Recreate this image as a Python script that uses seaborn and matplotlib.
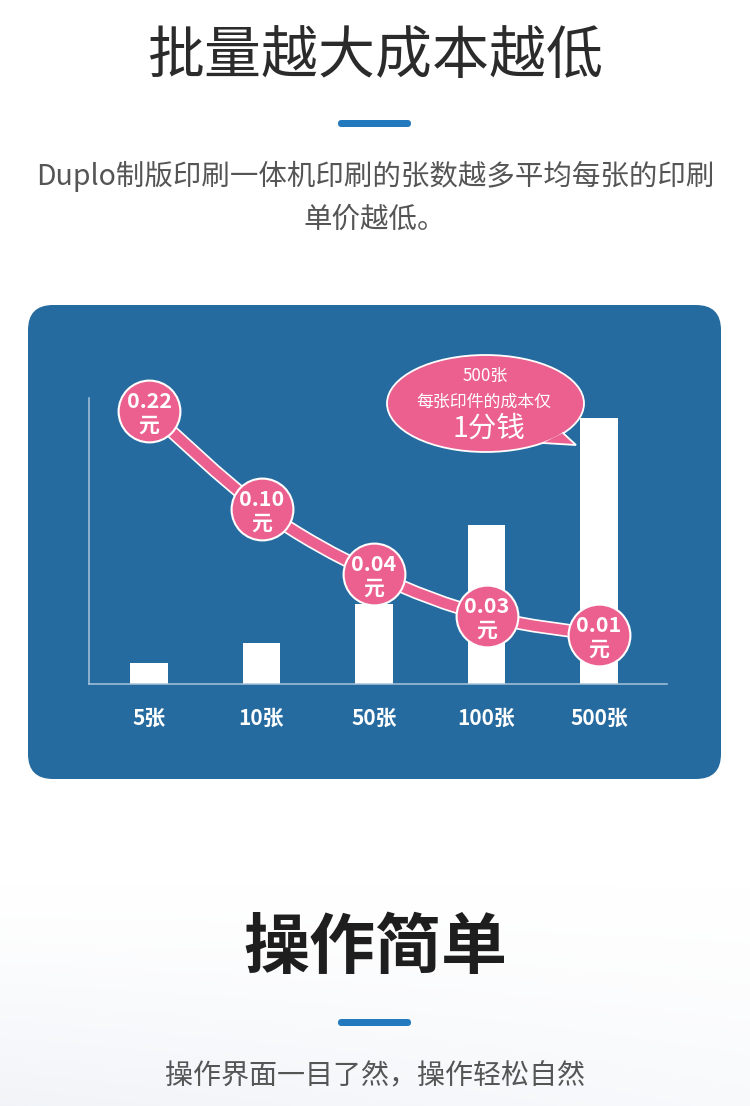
import numpy as np
import matplotlib
matplotlib.use("Agg")
import matplotlib.pyplot as plt
import seaborn as sns
import pandas as pd
from matplotlib.patches import FancyBboxPatch, Ellipse, Polygon, PathPatch
from matplotlib.path import Path
import matplotlib.patheffects as pe

# ---------------- data ----------------
categories = ["5张", "10张", "50张", "100张", "500张"]
bar_heights = [20.7, 40.7, 80, 159, 265.7]          # illustrative bar heights
unit_cost = [0.22, 0.10, 0.04, 0.03, 0.01]           # 元 per sheet
cost_labels = ["0.22", "0.10", "0.04", "0.03", "0.01"]
curve_level = [273, 175, 110, 68, 49]                # height of the cost curve
title_1 = "批量越大成本越低"
subtitle_1 = ["Duplo制版印刷一体机印刷的张数越多平均每张的印刷", "单价越低。"]
bubble_lines = ["500张", "每张印件的成本仅", "1分钱"]
title_2 = "操作简单"
subtitle_2 = "操作界面一目了然，操作轻松自然"

# ---------------- style ----------------
sns.set_theme(style="white")
FONT = ["Noto Sans CJK SC", "DejaVu Sans"]
plt.rcParams["font.family"] = FONT

PANEL = "#266B9F"
PINK = "#EC6090"
ACCENT = "#2379BD"
TITLE_C = "#2b2b2b"
SUB_C = "#555555"

W, H = 750, 1106
fig = plt.figure(figsize=(W / 100, H / 100), dpi=100)
fig.patch.set_facecolor("white")

# background axes in pixel coordinates
bg = fig.add_axes([0, 0, 1, 1], zorder=0)
bg.set_xlim(0, W)
bg.set_ylim(H, 0)
bg.axis("off")

# faint gradient at the bottom
gy = np.linspace(0, 1, 200)[:, None]
gx = np.linspace(0, 1, 300)[None, :]
alpha = np.clip(gy ** 1.3 * (1.0 - 0.5 * gx), 0, 1) * 0.75
grad = np.zeros((200, 300, 4))
grad[..., 0] = 0.93
grad[..., 1] = 0.945
grad[..., 2] = 0.965
grad[..., 3] = alpha
bg.imshow(grad, extent=(0, W, H, 880), aspect="auto", zorder=0, interpolation="bilinear")

# titles
bg.text(375, 57, title_1, ha="center", va="center", fontsize=41, color=TITLE_C, zorder=3)
bg.add_patch(FancyBboxPatch((338, 120), 73, 7, boxstyle="round,pad=0,rounding_size=3.5",
                            fc=ACCENT, ec="none", zorder=3))
bg.text(375, 176, subtitle_1[0], ha="center", va="center", fontsize=20.5, color=SUB_C, zorder=3)
bg.text(375, 220, subtitle_1[1], ha="center", va="center", fontsize=20.5, color=SUB_C, zorder=3)

# blue panel
bg.add_patch(FancyBboxPatch((28, 305), 693, 474, boxstyle="round,pad=0,rounding_size=25",
                            fc=PANEL, ec="none", zorder=1))

# speech bubble
ecx, ecy, ew, eh = 485.5, 403.5, 197, 97
bg.add_patch(Ellipse((ecx, ecy), ew, eh, fc=PINK, ec="white", lw=1.3, zorder=4))
tail = [(563, 433), (576, 445), (543, 443)]
bg.add_patch(Polygon(tail, closed=True, fc=PINK, ec="none", zorder=5))
bg.plot([tail[0][0], tail[1][0], tail[2][0]], [tail[0][1], tail[1][1], tail[2][1]],
        color="white", lw=1.3, zorder=6, solid_joinstyle="miter")
bg.text(485, 376, bubble_lines[0], ha="center", va="center", fontsize=12.2, color="white", zorder=7)
bg.text(484, 402, bubble_lines[1], ha="center", va="center", fontsize=12.2, color="white", zorder=7)
bg.text(489, 429, bubble_lines[2], ha="center", va="center", fontsize=20.5, fontweight=500,
        color="white", zorder=7)

# second section
bg.text(375, 948, title_2, ha="center", va="center", fontsize=47.5, fontweight="bold",
        color="#1e1e1e", zorder=3)
bg.add_patch(FancyBboxPatch((338, 1019), 73, 7, boxstyle="round,pad=0,rounding_size=3.5",
                            fc=ACCENT, ec="none", zorder=3))
bg.text(375, 1076, subtitle_2, ha="center", va="center", fontsize=20.2, color=SUB_C, zorder=3)

# ---------------- chart axes ----------------
left_px, right_px, top_px, base_px = 89.3, 666.7, 398, 684
ax = fig.add_axes([left_px / W, (H - base_px) / H, (right_px - left_px) / W, (base_px - top_px) / H],
                  zorder=2)
ax.patch.set_alpha(0)

df = pd.DataFrame({"qty": categories, "bar": bar_heights, "level": curve_level,
                   "cost": unit_cost, "label": cost_labels})
sns.barplot(data=df, x="qty", y="bar", color="white", width=0.334, saturation=1,
            edgecolor="none", ax=ax, zorder=2)

step = (599 - 149) / 4.0
ax.set_xlim((left_px - 149) / step, (right_px - 149) / step)
ax.set_ylim(0, base_px - top_px)

# smooth cost curve (Catmull-Rom through data points)
xs = np.arange(len(categories), dtype=float)
ys = np.array(curve_level, dtype=float)
pts = np.column_stack([xs, ys])
ext = np.vstack([pts[0], pts, pts[-1]])
verts = [tuple(pts[0])]
codes = [Path.MOVETO]
for i in range(len(pts) - 1):
    p0, p1, p2, p3 = ext[i], ext[i + 1], ext[i + 2], ext[i + 3]
    c1 = p1 + (p2 - p0) / 6.0
    c2 = p2 - (p3 - p1) / 6.0
    verts += [tuple(c1), tuple(c2), tuple(p2)]
    codes += [Path.CURVE4] * 3
curve = PathPatch(Path(verts, codes), fc="none", ec=PINK, lw=7.4, zorder=3,
                  capstyle="round", clip_on=False)
curve.set_path_effects([pe.Stroke(linewidth=9.8, foreground="white"), pe.Normal()])
ax.add_patch(curve)

n_before = len(ax.collections)
sns.scatterplot(data=df, x=xs, y="level", s=1980, color=PINK, edgecolor="white",
                linewidth=1.5, ax=ax, zorder=4, legend=False)
for coll in ax.collections[n_before:]:
    coll.set_clip_on(False)
for x, y, lab in zip(xs, curve_level, cost_labels):
    ax.annotate(lab, (x, y), xytext=(0, 7), textcoords="offset points", ha="center",
                va="center", fontsize=15.5, fontweight="bold", color="white", zorder=5,
                annotation_clip=False)
    ax.annotate("元", (x, y), xytext=(0, -10), textcoords="offset points", ha="center",
                va="center", fontsize=15, fontweight="bold", color="white", zorder=5,
                annotation_clip=False)

# axes styling
for s in ["top", "right"]:
    ax.spines[s].set_visible(False)
for s in ["left", "bottom"]:
    ax.spines[s].set_color("#A9C4DC")
    ax.spines[s].set_linewidth(1.1)
ax.set_yticks([])
ax.set_xlabel("")
ax.set_ylabel("")
ax.tick_params(axis="x", length=0, pad=17, labelsize=15, labelcolor="white")
for t in ax.get_xticklabels():
    t.set_fontweight("bold")
    t.set_fontfamily(FONT)

fig.savefig("out.png", dpi=100, facecolor="white")
